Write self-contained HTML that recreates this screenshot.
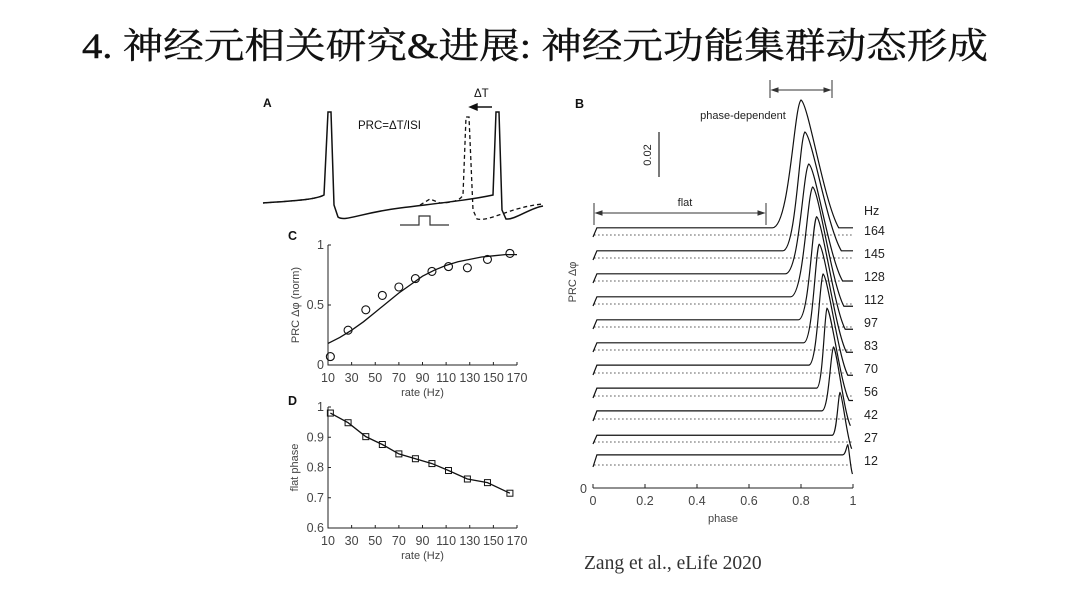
<!DOCTYPE html>
<html><head><meta charset="utf-8"><style>
html,body{margin:0;padding:0;background:#fff;width:1080px;height:604px;overflow:hidden}
svg{display:block}
text{font-family:"Liberation Sans",sans-serif}
</style></head><body>
<svg id="fig" width="1080" height="604" xmlns="http://www.w3.org/2000/svg">
<text x="82" y="58" textLength="906" lengthAdjust="spacingAndGlyphs" style="font-family:'Liberation Serif','Noto Serif CJK SC',serif;font-size:36px" fill="#111" stroke="#111" stroke-width="0.4">4. 神经元相关研究&amp;进展: 神经元功能集群动态形成</text>
<text x="584" y="569" style="font-family:'Liberation Serif',serif;font-size:19.5px" fill="#333">Zang et al., eLife 2020</text>

<g fill="none" stroke="#111">
<text x="263" y="107" stroke="none" fill="#111" font-weight="bold" font-size="12">A</text>
<text x="358" y="129" stroke="none" fill="#111" font-size="11.5">PRC=ΔT/ISI</text>
<text x="474" y="97" stroke="none" fill="#111" font-size="11.5">ΔT</text>
<path d="M492,107 L470,107 M470,107 l7,-3 v6 z" stroke-width="1.4" fill="#111"/>
<path d="M263,203 C290,201 315,200 324,195 L328,112 L331,112 L334,205 L338,217 C345,222 360,213 400,208 C440,203 470,200 493,195 L496,112 L499,112 L502,210 L506,219 C515,220 530,208 543,206" stroke-width="1.5"/>
<path d="M263,203 C290,201 315,200 324,195 M420,205 L430,199 L440,203 C450,203 460,201 463,195 L466,117 L469,117 L473,210 L477,219 C490,222 510,207 543,204" stroke-width="1.3" stroke-dasharray="4,3"/>
<path d="M400,225 H419 V216 H430 V225 H449" stroke-width="1.2" stroke="#333"/>
</g>

<g id="panelC"></g>
<g id="panelD"></g>
<g id="panelB"></g>
</svg>
<script>
// ---- Panel C data ----
const cRates = [12,27,42,56,70,84,98,112,128,145,164];
const cPrc = [0.07,0.29,0.46,0.58,0.65,0.72,0.78,0.82,0.81,0.88,0.93];
const cFitRates = [10,20,30,40,50,60,70,80,90,100,110,120,130,140,150,160,170];
const cFitVals = [0.18,0.23,0.29,0.36,0.44,0.52,0.60,0.67,0.74,0.79,0.83,0.86,0.88,0.90,0.91,0.92,0.92];
const cXTicks = [10,30,50,70,90,110,130,150,170];
const cYTicks = [0,0.5,1];
// ---- Panel D data ----
const dRates = [12,27,42,56,70,84,98,112,128,145,164];
const dFlat = [0.98,0.948,0.902,0.876,0.845,0.829,0.813,0.79,0.762,0.75,0.715];
const dYTicks = [0.6,0.7,0.8,0.9,1];
const dYLabels = ['0.6','0.7','0.8','0.9','1'];
// ---- Panel B data ----
const bRates = [164,145,128,112,97,83,70,56,42,27,12];
const bFlatLevel = [0.0032,0.0032,0.0032,0.0032,0.0032,0.0032,0.0035,0.0035,0.0036,0.003,0.0045];
const bFlatEnd = [0.69,0.73,0.74,0.76,0.79,0.81,0.83,0.86,0.88,0.92,0.96];
const bPeakPhase = [0.80,0.815,0.83,0.845,0.86,0.87,0.885,0.90,0.925,0.95,0.98];
const bPeak = [0.060,0.056,0.052,0.052,0.049,0.047,0.044,0.039,0.032,0.022,0.009];
const bDropPhase = [0.945,0.955,0.96,0.965,0.97,0.975,0.98,0.985,0.99,0.995,0.998];
const bEnd = [0.0032,0.0032,0.0,-0.001,-0.001,-0.001,-0.001,-0.002,-0.003,-0.003,-0.004];
const bXTicks = [0,0.2,0.4,0.6,0.8,1];
const bXLabels = ['0','0.2','0.4','0.6','0.8','1'];

const NS='http://www.w3.org/2000/svg';
function mk(tag,parent,attrs){const e=document.createElementNS(NS,tag);for(const k in attrs)e.setAttribute(k,attrs[k]);parent.appendChild(e);return e;}
function txt(parent,x,y,s,attrs){const t=mk('text',parent,Object.assign({x:x,y:y,'font-size':12.5,fill:'#444'},attrs||{}));t.textContent=s;return t;}

// Panel C
(function(){
 const g=document.getElementById('panelC');
 const X=v=>328+(v-10)/160*189, Y=v=>365-v*120;
 const l=txt(g,288,240,'C',{'font-weight':'bold',fill:'#111'});
 
 
 const ax=mk('path',g,{d:`M${X(10)},${Y(1)} V${Y(0)} H${X(170)}`,stroke:'#222',fill:'none','stroke-width':1});
 
 
 cXTicks.forEach(v=>{mk('line',g,{x1:X(v),x2:X(v),y1:Y(0),y2:Y(0)-3,stroke:'#222'});
  const t=txt(g,X(v),Y(0)+17,String(v),{'text-anchor':'middle'});
  
  });
 cYTicks.forEach(v=>{mk('line',g,{x1:X(10),x2:X(10)+3,y1:Y(v),y2:Y(v),stroke:'#222'});
  const t=txt(g,X(10)-4,Y(v)+4,String(v),{'text-anchor':'end'});
  
  });
 const xt=txt(g,X(90),Y(0)+31,'rate (Hz)',{'text-anchor':'middle','font-size':11});
 
 
 const yt=txt(g,0,0,'PRC Δφ (norm)',{'text-anchor':'middle','font-size':11,transform:`translate(299,${Y(0.5)}) rotate(-90)`});
 
 
 const fit=mk('path',g,{d:'M'+cFitRates.map((r,i)=>X(r)+','+Y(cFitVals[i])).join(' L'),fill:'none',stroke:'#111','stroke-width':1.3});
 
 
 cRates.forEach((r,i)=>{const c=mk('circle',g,{cx:X(r),cy:Y(cPrc[i]),r:4,fill:'none',stroke:'#111','stroke-width':1.1});
  
  });
})();

// Panel D
(function(){
 const g=document.getElementById('panelD');
 const X=v=>328+(v-10)/160*189, Y=v=>528-(v-0.6)/0.4*121;
 const l=txt(g,288,405,'D',{'font-weight':'bold',fill:'#111'});
 
 
 const ax=mk('path',g,{d:`M${X(10)},${Y(1)} V${Y(0.6)} H${X(170)}`,stroke:'#222',fill:'none'});
 
 
 cXTicks.forEach(v=>{mk('line',g,{x1:X(v),x2:X(v),y1:Y(0.6),y2:Y(0.6)-3,stroke:'#222'});
  const t=txt(g,X(v),Y(0.6)+17,String(v),{'text-anchor':'middle'});
  
  });
 dYTicks.forEach((v,i)=>{mk('line',g,{x1:X(10),x2:X(10)+3,y1:Y(v),y2:Y(v),stroke:'#222'});
  const t=txt(g,X(10)-4,Y(v)+4,dYLabels[i],{'text-anchor':'end'});
  
  });
 const xt=txt(g,X(90),Y(0.6)+31,'rate (Hz)',{'text-anchor':'middle','font-size':11});
 
 
 const yt=txt(g,0,0,'flat phase',{'text-anchor':'middle','font-size':11,transform:`translate(298,${Y(0.8)}) rotate(-90)`});
 
 
 const ln=mk('path',g,{d:'M'+dRates.map((r,i)=>X(r)+','+Y(dFlat[i])).join(' L'),fill:'none',stroke:'#111','stroke-width':1.3});
 
 
 dRates.forEach((r,i)=>{const s=mk('rect',g,{x:X(r)-3,y:Y(dFlat[i])-3,width:6,height:6,fill:'none',stroke:'#111','stroke-width':1});
  
  });
})();

// Panel B
(function(){
 const g=document.getElementById('panelB');
 const X=p=>593+p*260;
 const unit=45/0.02;
 const base=i=>235+i*23;
 const l=txt(g,575,108,'B',{'font-weight':'bold',fill:'#111'});
 
 
 const ax=mk('path',g,{d:`M${X(0)},488 H${X(1)}`,stroke:'#222',fill:'none'});
 
 
 bXTicks.forEach((v,i)=>{mk('line',g,{x1:X(v),x2:X(v),y1:488,y2:484,stroke:'#222'});
  const t=txt(g,X(v),505,bXLabels[i],{'text-anchor':'middle'});
  
  });
 const z=txt(g,580,493,'0');
 
 
 const xt=txt(g,X(0.5),522,'phase',{'text-anchor':'middle','font-size':11});
 
 
 const yt=txt(g,0,0,'PRC Δφ',{'text-anchor':'middle','font-size':11,transform:'translate(576,282) rotate(-90)'});
 
 
 const sb=mk('line',g,{x1:659,x2:659,y1:132,y2:177,stroke:'#222','stroke-width':1.2});
 
 
 const st=txt(g,0,0,'0.02',{'text-anchor':'middle','font-size':11,fill:'#222',transform:'translate(651,155) rotate(-90)'});
 
 
 const hz=txt(g,864,215,'Hz',{fill:'#222'});
 
 
 const a1=mk('path',g,{d:'M770,80 V98 M832,80 V98 M772,90 H830 M772,90 l6,-2 v4 z M830,90 l-6,-2 v4 z',stroke:'#333',fill:'#333','stroke-width':1});
 
 
 const t1=txt(g,743,119,'phase-dependent',{'text-anchor':'middle','font-size':11,fill:'#222'});
 
 
 const a2=mk('path',g,{d:'M594,203 V225 M766,203 V225 M596,213 H764 M596,213 l6,-2 v4 z M764,213 l-6,-2 v4 z',stroke:'#333',fill:'#333','stroke-width':1});
 
 
 const t2=txt(g,685,206,'flat',{'text-anchor':'middle','font-size':11,fill:'#222'});
 
 
 bRates.forEach((r,i)=>{
  const b=base(i), Yv=v=>b-v*unit;
  const dl=mk('line',g,{x1:X(0.005),x2:X(1),y1:b,y2:b,stroke:'#222','stroke-width':1,'stroke-dasharray':'1.2,2.8'});
  
  
  const fl=bFlatLevel[i], fe=bFlatEnd[i], pp=bPeakPhase[i], pk=bPeak[i], dp=bDropPhase[i];
  let d=`M${X(0)},${b+2} L${X(0.015)},${Yv(fl)} L${X(fe)},${Yv(fl)}`;
  const rise=pp-fe, fall=dp-pp;
  d+=` C${X(fe+rise*0.6)},${Yv(fl)} ${X(pp-rise*0.25)},${Yv(pk*0.95)} ${X(pp)},${Yv(pk)}`;
  d+=` C${X(pp+fall*0.2)},${Yv(pk*0.97)} ${X(pp+fall*0.6)},${Yv(bEnd[i]+pk*0.2)} ${X(dp)},${Yv(bEnd[i])}`;
  if(dp<0.99) d+=` L${X(1)},${Yv(bEnd[i])}`;
  const p=mk('path',g,{d:d,fill:'none',stroke:'#111','stroke-width':1.2});
  
  
  const lt=txt(g,864,b,String(r),{fill:'#222'});
  
  
 });
})();
</script>
</body></html>
